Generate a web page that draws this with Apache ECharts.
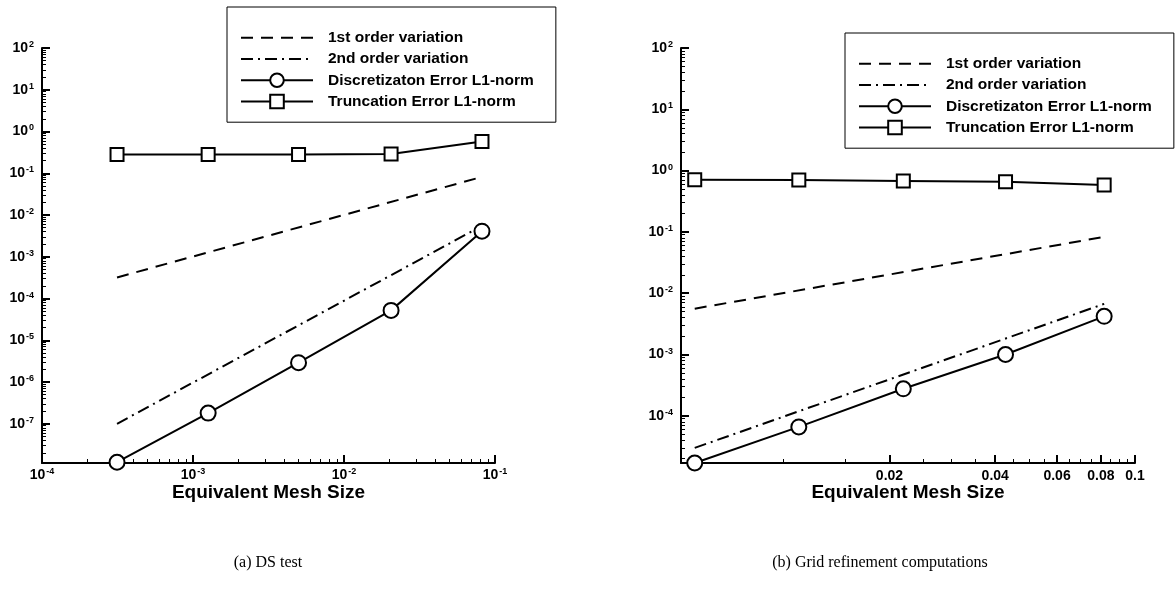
<!DOCTYPE html>
<html>
<head>
<meta charset="utf-8">
<script src="https://cdn.jsdelivr.net/npm/echarts@6/dist/echarts.min.js"></script>
<style>
html,body{margin:0;padding:0;background:#fff;}
#c{width:1175px;height:591px;}
</style>
</head>
<body>
<div id="c"></div>
<script>
// ---------- data: (a) DS test ----------
const meshA = [0.000314, 0.00126, 0.0050, 0.0205, 0.082];
const discA = [1.2e-8, 1.8e-7, 2.9e-6, 5.2e-5, 4.1e-3];
const truncA = [0.28, 0.28, 0.28, 0.29, 0.575];
const firstAx = [0.000314, 0.082];
const firstAy = [3.2e-4, 0.082];
const secondAx = [0.000314, 0.082];
const secondAy = [1.0e-7, 5.5e-3];
const yMajorA = [1e-7, 1e-6, 1e-5, 1e-4, 1e-3, 1e-2, 1e-1, 1e0, 1e1, 1e2];
const xMajorA = [1e-4, 1e-3, 1e-2, 1e-1];

// ---------- data: (b) Grid refinement ----------
const meshB = [0.00558, 0.01104, 0.0219, 0.0428, 0.0817];
const discB = [1.7e-5, 6.6e-5, 2.76e-4, 1.0e-3, 4.2e-3];
const truncB = [0.71, 0.70, 0.68, 0.66, 0.585];
const firstBx = [0.00558, 0.0817];
const firstBy = [5.6e-3, 0.083];
const secondBx = [0.00558, 0.0817];
const secondBy = [3.0e-5, 6.7e-3];
const yMajorB = [1e-4, 1e-3, 1e-2, 1e-1, 1e0, 1e1, 1e2];
const xMajorB = [0.02, 0.04, 0.06, 0.08, 0.1];
const xMinorB = [0.01, 0.015, 0.025, 0.03, 0.035, 0.045, 0.05, 0.055, 0.065, 0.07, 0.075, 0.085, 0.09, 0.095];

const names = ['1st order variation', '2nd order variation', 'Discretizaton Error L1-norm', 'Truncation Error L1-norm'];
const captions = ['(a) DS test', '(b) Grid refinement computations'];
const xTitle = 'Equivalent Mesh Size';

function logMinors(lo, hi) {
  const out = [];
  for (let e = Math.floor(Math.log10(lo)) ; e <= Math.ceil(Math.log10(hi)); e++) {
    for (let m = 2; m <= 9; m++) {
      const v = m * Math.pow(10, e);
      if (v > lo && v < hi) out.push(v);
    }
  }
  return out;
}
const pairs = (xs, ys) => xs.map((x, i) => [x, ys[i]]);

const FONT = '"Liberation Sans", Arial, sans-serif';
const powLabel = v => { const e = Math.round(Math.log10(v)); return '{b|10}{s|' + e + '}'; };
const rich = {
  b: { fontFamily: FONT, fontWeight: 'bold', fontSize: 14, color: '#000', lineHeight: 16 },
  s: { fontFamily: FONT, fontWeight: 'bold', fontSize: 9, color: '#000', verticalAlign: 'top', lineHeight: 16, padding: [0, 0, 8, 1] }
};

const ranges = [
  { yMin: 1.15e-8, yMax: 100, xMin: 1e-4, xMax: 0.1 },
  { yMin: 1.7e-5, yMax: 100, xMin: 0.0051, xMax: 0.1 }
];
const grids = [
  { left: 42, top: 48, width: 453, height: 415 },
  { left: 681, top: 48, width: 454, height: 415 }
];

const xAxis = [], yAxis = [], series = [];
const axLine = { show: true, lineStyle: { color: '#000', width: 2 } };

ranges.forEach((r, g) => {
  const yMaj = g === 0 ? yMajorA : yMajorB;
  const xMaj = g === 0 ? xMajorA : xMajorB;
  const xMin = g === 0 ? logMinors(r.xMin, r.xMax) : xMinorB;
  yAxis.push({
    type: 'log', gridIndex: g, min: r.yMin, max: r.yMax, position: 'left',
    axisLine: axLine, splitLine: { show: false },
    axisTick: { show: true, inside: true, length: 8, customValues: yMaj, lineStyle: { color: '#000', width: 2 } },
    axisLabel: { show: true, customValues: yMaj, formatter: powLabel, rich: rich, margin: 8 }
  });
  yAxis.push({
    type: 'log', gridIndex: g, min: r.yMin, max: r.yMax, position: 'left',
    axisLine: { show: false }, splitLine: { show: false },
    axisTick: { show: true, inside: true, length: 4, customValues: logMinors(r.yMin, r.yMax), lineStyle: { color: '#000', width: 1 } },
    axisLabel: { show: false }
  });
  xAxis.push({
    type: 'log', gridIndex: g, min: r.xMin, max: r.xMax, position: 'bottom',
    name: xTitle, nameLocation: 'middle', nameGap: 20, nameMoveOverlap: false,
    nameTextStyle: { fontFamily: FONT, fontWeight: 'bold', fontSize: 19, color: '#000' },
    axisLine: axLine, splitLine: { show: false },
    axisTick: { show: true, inside: true, length: 8, customValues: xMaj, lineStyle: { color: '#000', width: 2 } },
    axisLabel: g === 0
      ? { show: true, customValues: xMaj, formatter: powLabel, rich: rich, margin: 4 }
      : { show: true, customValues: xMaj, formatter: v => String(+v.toFixed(3)), fontFamily: FONT, fontWeight: 'bold', fontSize: 14, color: '#000', margin: 6 }
  });
  xAxis.push({
    type: 'log', gridIndex: g, min: r.xMin, max: r.xMax, position: 'bottom',
    axisLine: { show: false }, splitLine: { show: false },
    axisTick: { show: true, inside: true, length: 4, customValues: xMin, lineStyle: { color: '#000', width: 1 } },
    axisLabel: { show: false }
  });

  const mesh = g === 0 ? meshA : meshB;
  const disc = g === 0 ? discA : discB;
  const trunc = g === 0 ? truncA : truncB;
  const f = g === 0 ? pairs(firstAx, firstAy) : pairs(firstBx, firstBy);
  const s = g === 0 ? pairs(secondAx, secondAy) : pairs(secondBx, secondBy);
  const xi = g * 2, yi = g * 2;
  series.push({
    name: names[0], type: 'line', xAxisIndex: xi, yAxisIndex: yi, data: f, symbol: 'none',
    lineStyle: { color: '#000', width: 2, type: [12, 8] }, itemStyle: { color: '#000' }, silent: true
  });
  series.push({
    name: names[1], type: 'line', xAxisIndex: xi, yAxisIndex: yi, data: s, symbol: 'none',
    lineStyle: { color: '#000', width: 2, type: [12, 5, 2, 5] }, itemStyle: { color: '#000' }, silent: true
  });
  series.push({
    name: names[2], type: 'line', xAxisIndex: xi, yAxisIndex: yi, data: pairs(mesh, disc),
    symbol: 'circle', symbolSize: 15, showSymbol: true,
    lineStyle: { color: '#000', width: 2 }, itemStyle: { color: '#fff', borderColor: '#000', borderWidth: 2 }, silent: true, z: 3
  });
  series.push({
    name: names[3], type: 'line', xAxisIndex: xi, yAxisIndex: yi, data: pairs(mesh, trunc),
    symbol: 'rect', symbolSize: 13, showSymbol: true,
    lineStyle: { color: '#000', width: 2 }, itemStyle: { color: '#fff', borderColor: '#000', borderWidth: 2 }, silent: true, z: 3
  });
});

const legendData = [
  { name: names[0], itemStyle: { opacity: 0 } },
  { name: names[1], itemStyle: { opacity: 0 } },
  { name: names[2] },
  { name: names[3] }
];
const legendBase = {
  orient: 'vertical', data: legendData, itemWidth: 72, itemHeight: 17, itemGap: 0,
  backgroundColor: '#fff', borderColor: '#000', borderWidth: 1,
  padding: [20, 22, 10, 13], selectedMode: false,
  textStyle: { fontFamily: FONT, fontWeight: 'bold', fontSize: 15.5, lineHeight: 21.3, color: '#000', padding: [0, 0, 0, 10] }
};

const capFont = '16px "Liberation Serif", "Times New Roman", serif';
const chart = echarts.init(document.getElementById('c'), null, { renderer: 'canvas' });
chart.setOption({
  backgroundColor: '#fff',
  animation: false,
  grid: grids,
  xAxis: xAxis,
  yAxis: yAxis,
  legend: [
    Object.assign({}, legendBase, { left: 227, top: 7 }),
    Object.assign({}, legendBase, { left: 845, top: 33 })
  ],
  graphic: [
    { type: 'text', x: 268, y: 555, style: { text: captions[0], font: capFont, fill: '#000', align: 'center' } },
    { type: 'text', x: 880, y: 555, style: { text: captions[1], font: capFont, fill: '#000', align: 'center' } }
  ],
  series: series
});
</script>
</body>
</html>
